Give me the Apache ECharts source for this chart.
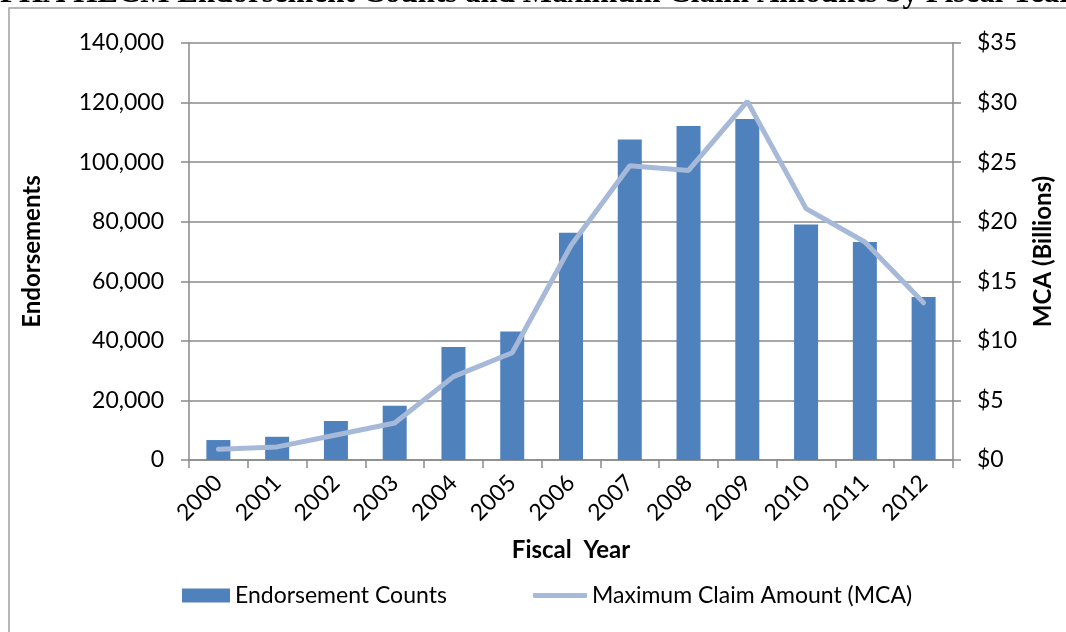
<!DOCTYPE html>
<html>
<head>
<meta charset="utf-8">
<script src="https://cdn.jsdelivr.net/npm/echarts@6/dist/echarts.min.js"></script>
<style>
html,body{margin:0;padding:0;background:#fff;}
#chart{width:1066px;height:632px;}
</style>
</head>
<body>
<div id="chart"></div>
<script>
const years = ['2000','2001','2002','2003','2004','2005','2006','2007','2008','2009','2010','2011','2012'];
const endorsements = [6700, 7800, 13100, 18200, 37900, 43100, 76300, 107600, 112100, 114500, 79100, 73200, 54700];
const mcaBillions = [0.9, 1.1, 2.1, 3.1, 7.0, 9.0, 18.0, 24.7, 24.3, 30.1, 21.1, 18.3, 13.2];
const leftTicks = {min: 0, max: 140000, interval: 20000};
const rightTicks = {min: 0, max: 35, interval: 5};
const titleText = 'FHA HECM Endorsement Counts and Maximum Claim Amounts by Fiscal Year';

const FONT = 'Lato';
const gridGray = '#8a8a8a';
const chart = echarts.init(document.getElementById('chart'), null, {renderer: 'canvas'});
chart.setOption({
  backgroundColor: '#fff',
  animation: false,
  graphic: [
    {type: 'rect', shape: {x: 9, y: 8, width: 1100, height: 700}, style: {fill: 'none', stroke: '#a0a0a0', lineWidth: 1.5}, silent: true},
    {type: 'text', left: 0, top: -22, style: {text: titleText, font: 'bold 31px "Liberation Serif"', fill: '#000'}, silent: true}
  ],
  grid: {left: 189, right: 113, top: 43, bottom: 172, containLabel: false},
  legend: [
    {
      left: 177, top: 579,
      itemWidth: 48, itemHeight: 14,
      textStyle: {fontFamily: FONT, fontSize: 23, color: '#000'},
      data: [{name: 'Endorsement Counts', icon: 'rect'}]
    },
    {
      left: 528, top: 579,
      itemWidth: 54, itemHeight: 5, itemGap: 5,
      textStyle: {fontFamily: FONT, fontSize: 23, color: '#000'},
      data: [{name: 'Maximum Claim Amount (MCA)', icon: 'roundRect'}]
    }
  ],
  xAxis: {
    type: 'category', data: years,
    name: 'Fiscal  Year', nameLocation: 'middle', nameGap: 78,
    nameTextStyle: {fontFamily: FONT, fontSize: 24, fontWeight: 'bold', color: '#000'},
    axisLine: {lineStyle: {color: gridGray, width: 1.5}},
    axisTick: {show: true, alignWithLabel: false, length: 8, lineStyle: {color: gridGray, width: 1.5}},
    axisLabel: {rotate: 45, fontFamily: FONT, fontSize: 23, color: '#000', margin: 19}
  },
  yAxis: [
    {
      type: 'value', min: leftTicks.min, max: leftTicks.max, interval: leftTicks.interval,
      name: 'Endorsements', nameLocation: 'middle', nameGap: 145,
      nameTextStyle: {fontFamily: FONT, fontSize: 24, fontWeight: 'bold', color: '#000'},
      axisLine: {show: true, lineStyle: {color: gridGray, width: 1.5}},
      axisTick: {show: true, length: 8, lineStyle: {color: gridGray, width: 1.5}},
      splitLine: {show: true, lineStyle: {color: gridGray, width: 1.5}},
      axisLabel: {fontFamily: FONT, fontSize: 23, color: '#000', margin: 25,
        formatter: v => v.toLocaleString('en-US')}
    },
    {
      type: 'value', min: rightTicks.min, max: rightTicks.max, interval: rightTicks.interval,
      name: 'MCA (Billions)', nameLocation: 'middle', nameGap: 78, nameRotate: 90,
      nameTextStyle: {fontFamily: FONT, fontSize: 24, fontWeight: 'bold', color: '#000'},
      axisLine: {show: true, lineStyle: {color: gridGray, width: 1.5}},
      axisTick: {show: true, length: 8, lineStyle: {color: gridGray, width: 1.5}},
      splitLine: {show: false},
      axisLabel: {fontFamily: FONT, fontSize: 23, color: '#000', margin: 24,
        formatter: v => '$' + v}
    }
  ],
  series: [
    {
      name: 'Endorsement Counts', type: 'bar', data: endorsements, barWidth: 24,
      itemStyle: {color: '#4F81BD'}
    },
    {
      name: 'Maximum Claim Amount (MCA)', type: 'line', yAxisIndex: 1, data: mcaBillions,
      symbol: 'none', z: 5,
      lineStyle: {color: '#A7B9D8', width: 5, cap: 'round'},
      itemStyle: {color: '#A7B9D8'}
    }
  ]
});
</script>
</body>
</html>
